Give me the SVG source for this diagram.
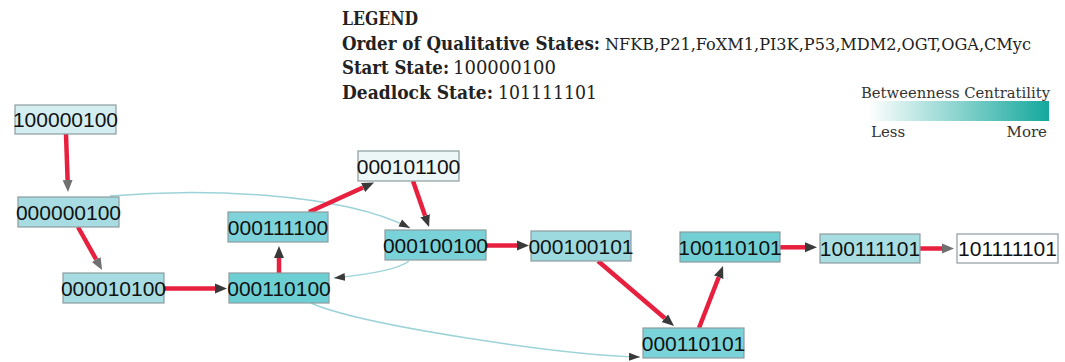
<svg xmlns="http://www.w3.org/2000/svg" width="1065" height="362" viewBox="0 0 1065 362">
  <style>
    .legend { font-family: "DejaVu Serif", "Liberation Serif", serif; font-size: 18.5px; fill: #222; }
    .legend .b { font-weight: bold; }
    .legend .list { font-size: 17px; }
    .scale { font-family: "DejaVu Serif", "Liberation Serif", serif; font-size: 15px; fill: #333; }
    .node rect { stroke: #8c9c9e; stroke-width: 1.2; }
    .node text { font-family: "Liberation Sans", Arial, sans-serif; font-size: 21px; fill: #111; text-anchor: middle; }
    .main { fill: none; stroke: #e8203f; stroke-width: 4.5; }
    .side { fill: none; stroke: #9dd3d8; stroke-width: 1.5; }
  </style>
  <defs>
    <linearGradient id="centrality" x1="0" y1="0" x2="1" y2="0">
      <stop offset="0" stop-color="#ffffff"/>
      <stop offset="1" stop-color="#14a89d"/>
    </linearGradient>
    <marker id="headDark" markerUnits="userSpaceOnUse" markerWidth="14" markerHeight="12" viewBox="0 -6 14 12" refX="0" refY="0" orient="auto">
      <path d="M0,-5 L12,0 L0,5 Z" fill="#3a3a3a"/>
    </marker>
    <marker id="headGrey" markerUnits="userSpaceOnUse" markerWidth="14" markerHeight="12" viewBox="0 -6 14 12" refX="0" refY="0" orient="auto">
      <path d="M0,-5 L12,0 L0,5 Z" fill="#707070"/>
    </marker>
    <marker id="headThin" markerUnits="userSpaceOnUse" markerWidth="12" markerHeight="10" viewBox="0 -5 12 10" refX="11" refY="0" orient="auto">
      <path d="M0,-4 L11,0 L0,4 Z" fill="#3a3a3a"/>
    </marker>
  </defs>

  <!-- legend -->
  <g id="legend" class="legend">
    <text class="b" x="342" y="25" textLength="76" lengthAdjust="spacingAndGlyphs">LEGEND</text>
    <text class="b" x="342" y="50" textLength="258" lengthAdjust="spacingAndGlyphs">Order of Qualitative States:</text>
    <text class="list" x="605" y="50" textLength="426" lengthAdjust="spacingAndGlyphs">NFKB,P21,FoXM1,PI3K,P53,MDM2,OGT,OGA,CMyc</text>
    <text class="b" x="342" y="74" textLength="107" lengthAdjust="spacingAndGlyphs">Start State:</text>
    <text x="453" y="74" textLength="103" lengthAdjust="spacingAndGlyphs">100000100</text>
    <text class="b" x="342" y="99" textLength="151" lengthAdjust="spacingAndGlyphs">Deadlock State:</text>
    <text x="498" y="99" textLength="99" lengthAdjust="spacingAndGlyphs">101111101</text>
  </g>

  <!-- colour scale -->
  <g id="scale" class="scale">
    <text x="861" y="98" textLength="189" lengthAdjust="spacingAndGlyphs">Betweenness Centratility</text>
    <rect x="868" y="101" width="181" height="20" fill="url(#centrality)"/>
    <text x="871" y="137">Less</text>
    <text x="1047" y="137" text-anchor="end">More</text>
  </g>

  <!-- connectors -->
  <g id="connectors">
    <path class="side" d="M110,196 C200,188 340,192 410,228" marker-end="url(#headThin)"/>
    <path class="side" d="M409,261 Q395,272 334,278" marker-end="url(#headThin)"/>
    <path class="side" d="M311,303 C360,325 560,355 640,357" marker-end="url(#headThin)"/>

    <path class="main" d="M66,134 L67.6,180" marker-end="url(#headGrey)"/>
    <path class="main" d="M78,227 L96.2,259.5" marker-end="url(#headGrey)"/>
    <path class="main" d="M164,288.5 L215,288.5" marker-end="url(#headDark)"/>
    <path class="main" d="M279,273 L279,258" marker-end="url(#headDark)"/>
    <path class="main" d="M309,212 L363.1,187.5" marker-end="url(#headDark)"/>
    <path class="main" d="M413,181 L425.1,215.7" marker-end="url(#headDark)"/>
    <path class="main" d="M486,245.5 L517,245.5" marker-end="url(#headDark)"/>
    <path class="main" d="M598,261 L664.9,318.2" marker-end="url(#headDark)"/>
    <path class="main" d="M699,328 L718.7,277.2" marker-end="url(#headDark)"/>
    <path class="main" d="M780,247.3 L805,247.3" marker-end="url(#headDark)"/>
    <path class="main" d="M920,248.5 L942,248.5" marker-end="url(#headGrey)"/>
  </g>

  <!-- state nodes -->
  <g id="n100000100" class="node"><rect x="15" y="105" width="101" height="29" fill="#d4edf1"/><text x="65.5" y="127">100000100</text></g>
  <g id="n000000100" class="node"><rect x="18" y="197" width="101" height="30" fill="#a6dce2"/><text x="68.5" y="219.5">000000100</text></g>
  <g id="n000010100" class="node"><rect x="63" y="273" width="101" height="30" fill="#a6dce2"/><text x="113.5" y="295.5">000010100</text></g>
  <g id="n000101100" class="node"><rect x="358" y="151" width="101" height="30" fill="#eef7f8"/><text x="408.5" y="173.5">000101100</text></g>
  <g id="n000111100" class="node"><rect x="228" y="212" width="100" height="30" fill="#7dd3d9"/><text x="278" y="234.5">000111100</text></g>
  <g id="n000100100" class="node"><rect x="385" y="230" width="101" height="30" fill="#78d2d7"/><text x="435.5" y="252.5">000100100</text></g>
  <g id="n000110100" class="node"><rect x="229" y="273" width="100" height="30" fill="#6ccfd4"/><text x="279" y="295.5">000110100</text></g>
  <g id="n000100101" class="node"><rect x="531" y="231" width="100" height="30" fill="#9cdadf"/><text x="581" y="253.5">000100101</text></g>
  <g id="n100110101" class="node"><rect x="680" y="232" width="100" height="30" fill="#72d0d5"/><text x="730" y="254.5">100110101</text></g>
  <g id="n000110101" class="node"><rect x="643" y="328" width="101" height="30" fill="#7ad3d8"/><text x="693.5" y="350.5">000110101</text></g>
  <g id="n100111101" class="node"><rect x="820" y="234" width="100" height="29" fill="#a8dde2"/><text x="870" y="256">100111101</text></g>
  <g id="n101111101" class="node"><rect x="957" y="234" width="101" height="29" fill="#ffffff" stroke="#c8c8c8"/><text x="1007.5" y="256">101111101</text></g>
</svg>
